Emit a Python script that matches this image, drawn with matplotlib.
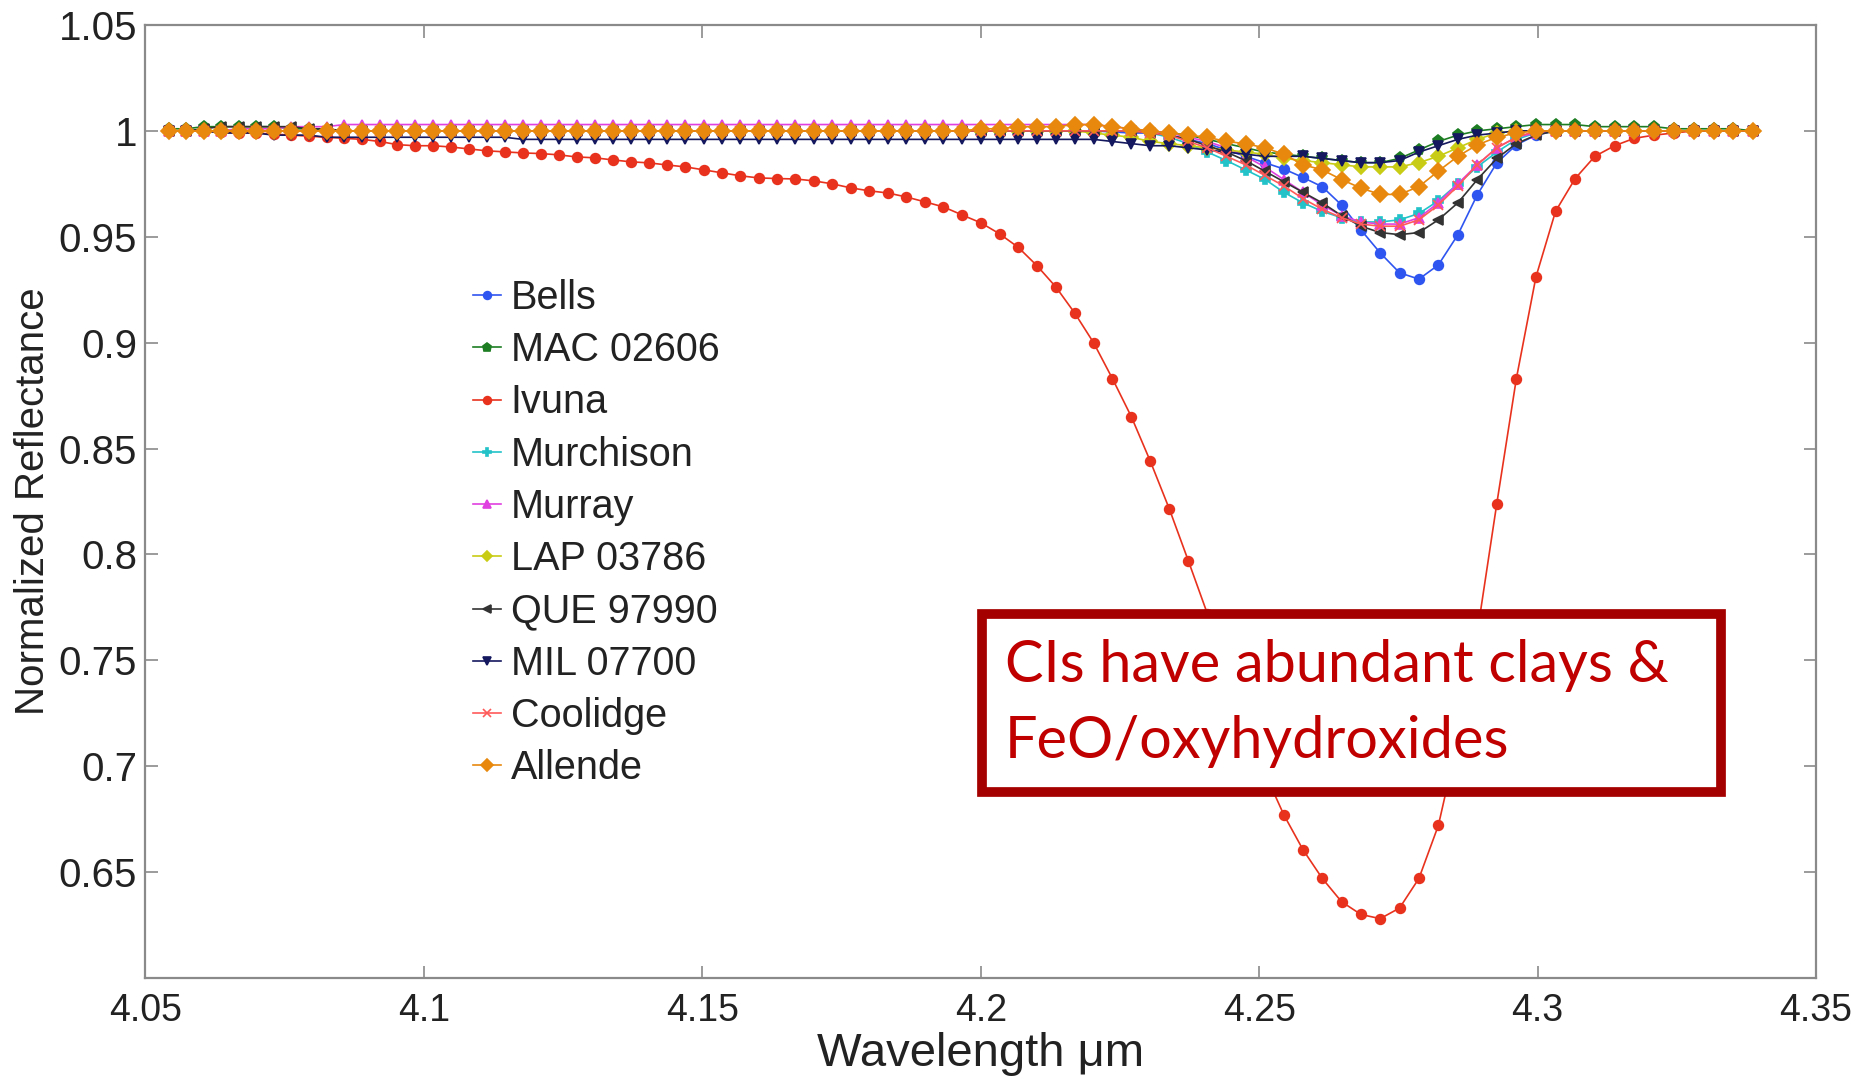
import numpy as np
import matplotlib
matplotlib.use('Agg')
import matplotlib.pyplot as plt
from matplotlib import font_manager
from matplotlib.patches import Rectangle

# sampling grid: evenly spaced in wavenumber (cm-1), read from first/last points
wn_first, wn_last, n_pts = 2466.6, 2304.8, 86
wavelength = 1e4 / np.linspace(wn_first, wn_last, n_pts)

bells = [
    1.0, 1.0, 1.0, 1.0, 1.0, 1.0, 1.0, 1.0, 1.0, 1.0,
    1.0, 1.0, 1.0, 1.0, 1.0, 1.0, 1.0, 1.0, 1.0, 1.0,
    1.0, 1.0, 1.0, 1.0, 1.0, 1.0, 1.0, 1.0, 1.0, 1.0,
    1.0, 1.0, 1.0, 1.0, 1.0, 1.0, 1.0, 1.0, 1.0, 1.0,
    1.0, 1.0, 1.0, 1.0, 1.0, 1.0, 1.0, 1.0, 1.0, 1.0,
    1.0, 1.0, 0.9995, 0.999, 0.999, 0.998, 0.996, 0.994, 0.991, 0.988,
    0.985, 0.982, 0.978, 0.9736, 0.965, 0.9533, 0.9424, 0.933, 0.930, 0.9367,
    0.9509, 0.9698, 0.9849, 0.9934, 0.998, 1.0, 1.0, 1.0, 1.0, 1.0,
    1.0, 1.0, 1.0, 1.0, 1.0, 1.0]

mac_02606 = [
    1.001, 1.001, 1.002, 1.002, 1.002, 1.002, 1.002, 1.001, 1.001, 1.0,
    1.0, 1.0, 1.0, 1.0, 1.0, 1.0, 1.0, 1.0, 1.0, 1.0,
    1.0, 1.0, 1.0, 1.0, 1.0, 1.0, 1.0, 1.0, 1.0, 1.0,
    1.0, 1.0, 1.0, 1.0, 1.0, 1.0, 1.0, 1.0, 1.0, 1.0,
    1.0, 1.0, 1.0, 1.0, 1.0, 1.0, 1.0, 1.0, 1.0, 1.0,
    1.0, 1.0, 1.0, 1.0, 1.0, 0.999, 0.998, 0.996, 0.994, 0.992,
    0.990, 0.989, 0.988, 0.987, 0.986, 0.985, 0.985, 0.987, 0.991, 0.995,
    0.998, 1.0, 1.001, 1.002, 1.003, 1.003, 1.003, 1.002, 1.002, 1.002,
    1.002, 1.001, 1.001, 1.001, 1.001, 1.0]

ivuna = [
    1.0, 1.0, 1.0, 0.9995, 0.999, 0.999, 0.9985, 0.998, 0.9975, 0.997,
    0.9965, 0.996, 0.995, 0.9935, 0.993, 0.993, 0.9924, 0.9915, 0.9906, 0.9901,
    0.9896, 0.9893, 0.9887, 0.9877, 0.9873, 0.9863, 0.9854, 0.9849, 0.9839, 0.983,
    0.9816, 0.9802, 0.9788, 0.9778, 0.9775, 0.9773, 0.9764, 0.975, 0.9731, 0.9717,
    0.9707, 0.9688, 0.9665, 0.9641, 0.9603, 0.9566, 0.9514, 0.945, 0.9363, 0.9263,
    0.914, 0.900, 0.883, 0.865, 0.844, 0.8215, 0.797, 0.772, 0.7455, 0.721,
    0.697, 0.677, 0.6605, 0.647, 0.636, 0.630, 0.628, 0.633, 0.647, 0.672,
    0.7125, 0.763, 0.824, 0.883, 0.931, 0.962, 0.9775, 0.988, 0.993, 0.9965,
    0.998, 0.999, 1.0, 1.0, 1.0, 1.0]

murchison = [
    1.0, 1.0, 1.0, 1.0, 1.0, 1.0, 1.0, 1.0, 1.0, 1.0,
    1.0, 1.0, 1.0, 1.0, 1.0, 1.0, 1.0, 1.0, 1.0, 1.0,
    1.0, 1.0, 1.0, 1.0, 1.0, 1.0, 1.0, 1.0, 1.0, 1.0,
    1.0, 1.0, 1.0, 1.0, 1.0, 1.0, 1.0, 1.0, 1.0, 1.0,
    1.0, 1.0, 1.0, 1.0, 1.0, 1.0, 1.0, 1.0, 1.0, 1.0,
    1.0, 1.0, 1.0, 1.0, 0.999, 0.997, 0.994, 0.990, 0.986, 0.9816,
    0.9772, 0.971, 0.966, 0.962, 0.959, 0.957, 0.957, 0.958, 0.961, 0.967,
    0.975, 0.983, 0.990, 0.996, 0.999, 1.0, 1.0, 1.0, 1.0, 1.0,
    1.0, 1.0, 1.0, 1.0, 1.0, 1.0]

murray = [
    1.0, 1.0, 1.0, 1.0, 1.001, 1.001, 1.001, 1.002, 1.002, 1.002,
    1.003, 1.003, 1.003, 1.003, 1.003, 1.003, 1.003, 1.003, 1.003, 1.003,
    1.003, 1.003, 1.003, 1.003, 1.003, 1.003, 1.003, 1.003, 1.003, 1.003,
    1.003, 1.003, 1.003, 1.003, 1.003, 1.003, 1.003, 1.003, 1.003, 1.003,
    1.003, 1.003, 1.003, 1.003, 1.003, 1.003, 1.003, 1.003, 1.003, 1.003,
    1.003, 1.003, 1.002, 1.001, 1.0, 0.999, 0.997, 0.995, 0.992, 0.988,
    0.983, 0.977, 0.971, 0.965, 0.960, 0.957, 0.956, 0.956, 0.959, 0.966,
    0.975, 0.984, 0.992, 0.997, 0.999, 1.0, 1.0, 1.0, 1.0, 1.0,
    1.0, 1.0, 1.0, 1.0, 1.0, 1.0]

lap_03786 = [
    1.0, 1.0, 1.0, 1.0, 1.0, 1.0, 1.0, 1.0, 1.0, 1.0,
    1.0, 1.0, 1.0, 1.0, 1.0, 1.0, 1.0, 1.0, 1.0, 1.0,
    1.0, 1.0, 1.0, 1.0, 1.0, 1.0, 1.0, 1.0, 1.0, 1.0,
    1.0, 1.0, 1.0, 1.0, 1.0, 1.0, 1.0, 1.0, 1.0, 1.0,
    1.0, 1.0, 1.0, 1.0, 1.0, 1.0, 1.0, 1.0, 1.0, 1.0,
    1.0, 0.999, 0.998, 0.997, 0.995, 0.994, 0.993, 0.992, 0.991, 0.990,
    0.989, 0.987, 0.986, 0.985, 0.984, 0.983, 0.983, 0.983, 0.985, 0.988,
    0.992, 0.996, 0.999, 1.0, 1.0, 1.0, 1.0, 1.0, 1.0, 1.0,
    1.0, 1.0, 1.0, 1.0, 1.0, 1.0]

que_97990 = [
    1.0, 1.0, 1.001, 1.002, 1.002, 1.002, 1.002, 1.002, 1.001, 1.001,
    1.0, 1.0, 1.0, 1.0, 1.0, 1.0, 1.0, 1.0, 1.0, 1.0,
    1.0, 1.0, 1.0, 1.0, 1.0, 1.0, 1.0, 1.0, 1.0, 1.0,
    1.0, 1.0, 1.0, 1.0, 1.0, 1.0, 1.0, 1.0, 1.0, 1.0,
    1.0, 1.0, 1.0, 1.0, 1.0, 1.0, 1.0, 1.0, 1.0, 1.0,
    1.0, 1.0, 1.0, 1.0, 0.999, 0.998, 0.996, 0.993, 0.990, 0.986,
    0.981, 0.976, 0.971, 0.966, 0.960, 0.955, 0.952, 0.951, 0.952, 0.958,
    0.966, 0.977, 0.987, 0.994, 0.998, 1.0, 1.0, 1.0, 1.0, 1.0,
    1.0, 1.0, 1.0, 1.0, 1.0, 1.0]

mil_07700 = [
    1.0, 1.0, 1.0, 0.999, 0.999, 0.999, 0.998, 0.998, 0.998, 0.997,
    0.997, 0.997, 0.997, 0.997, 0.997, 0.997, 0.997, 0.997, 0.997, 0.997,
    0.996, 0.996, 0.996, 0.996, 0.996, 0.996, 0.996, 0.996, 0.996, 0.996,
    0.996, 0.996, 0.996, 0.996, 0.996, 0.996, 0.996, 0.996, 0.996, 0.996,
    0.996, 0.996, 0.996, 0.996, 0.996, 0.996, 0.996, 0.996, 0.996, 0.996,
    0.996, 0.996, 0.995, 0.994, 0.993, 0.993, 0.992, 0.991, 0.990, 0.989,
    0.988, 0.988, 0.988, 0.987, 0.986, 0.985, 0.985, 0.986, 0.990, 0.993,
    0.996, 0.998, 0.999, 1.0, 1.0, 1.0, 1.0, 1.0, 1.0, 1.0,
    1.0, 1.0, 1.0, 1.0, 1.0, 1.0]

coolidge = [
    1.0, 1.0, 1.0, 1.0, 1.0, 1.0, 1.0, 1.0, 1.0, 1.0,
    1.0, 1.0, 1.0, 1.0, 1.0, 1.0, 1.0, 1.0, 1.0, 1.0,
    1.0, 1.0, 1.0, 1.0, 1.0, 1.0, 1.0, 1.0, 1.0, 1.0,
    1.0, 1.0, 1.0, 1.0, 1.0, 1.0, 1.0, 1.0, 1.0, 1.0,
    1.0, 1.0, 1.0, 1.0, 1.0, 1.0, 1.0, 1.0, 1.0, 1.0,
    1.0, 1.0, 1.0, 1.0, 0.999, 0.998, 0.995, 0.992, 0.988, 0.984,
    0.979, 0.974, 0.968, 0.963, 0.959, 0.956, 0.955, 0.955, 0.958, 0.965,
    0.974, 0.984, 0.992, 0.997, 1.0, 1.0, 1.0, 1.0, 1.0, 1.0,
    1.0, 1.0, 1.0, 1.0, 1.0, 1.0]

allende = [
    1.0, 1.0, 1.0, 1.0, 1.0, 1.0, 1.0, 1.0, 1.0, 1.0,
    1.0, 1.0, 1.0, 1.0, 1.0, 1.0, 1.0, 1.0, 1.0, 1.0,
    1.0, 1.0, 1.0, 1.0, 1.0, 1.0, 1.0, 1.0, 1.0, 1.0,
    1.0, 1.0, 1.0, 1.0, 1.0, 1.0, 1.0, 1.0, 1.0, 1.0,
    1.0, 1.0, 1.0, 1.0, 1.0, 1.001, 1.001, 1.002, 1.002, 1.002,
    1.003, 1.003, 1.002, 1.001, 1.0, 0.999, 0.998, 0.997, 0.995, 0.994,
    0.992, 0.989, 0.984, 0.9816, 0.977, 0.973, 0.970, 0.970, 0.9737, 0.981,
    0.988, 0.9934, 0.997, 0.999, 1.0, 1.0, 1.0, 1.0, 1.0, 1.0,
    1.0, 1.0, 1.0, 1.0, 1.0, 1.0]

labels = ['Bells', 'MAC 02606', 'Ivuna', 'Murchison', 'Murray',
          'LAP 03786', 'QUE 97990', 'MIL 07700', 'Coolidge', 'Allende']
series = [bells, mac_02606, ivuna, murchison, murray,
          lap_03786, que_97990, mil_07700, coolidge, allende]
colors = ['#2f55f0', '#1d7d22', '#e8321e', '#22c2c8', '#e040e0',
          '#c8cc14', '#333333', '#14185e', '#ff5a5a', '#e8890e']
markers = ['o', 'p', 'o', 'P', '^', 'D', '<', 'v', 'x', 'D']
sizes = [7, 8, 7, 7, 7, 7, 7, 7, 7, 8]

xticks = [4.05, 4.1, 4.15, 4.2, 4.25, 4.3, 4.35]
xticklabels = ['4.05', '4.1', '4.15', '4.2', '4.25', '4.3', '4.35']
yticks = [0.65, 0.7, 0.75, 0.8, 0.85, 0.9, 0.95, 1.0, 1.05]
yticklabels = ['0.65', '0.7', '0.75', '0.8', '0.85', '0.9', '0.95', '1', '1.05']

names = {f.name for f in font_manager.fontManager.ttflist}
if 'Liberation Sans Narrow' in names:
    narrow, nscale = 'Liberation Sans Narrow', 1.15
else:
    narrow, nscale = 'Liberation Sans', 1.0
wide = 'Liberation Sans'
box_font = 'Lato' if 'Lato' in names else 'DejaVu Sans'

fig = plt.figure(figsize=(18.7, 10.83), dpi=100)
ax = fig.add_axes([0.0778, 0.0970, 0.8933, 0.8799])

for y, lab, c, m, s in zip(series, labels, colors, markers, sizes):
    ax.plot(wavelength, y, color=c, marker=m, markersize=s, linewidth=1.2,
            markeredgecolor=c, markeredgewidth=1.2, label=lab)

ax.set_xlim(4.05, 4.35)
ax.set_ylim(0.6, 1.05)
ax.set_xticks(xticks)
ax.set_xticklabels(xticklabels, fontfamily=narrow, fontsize=27 * nscale, color='#222222')
ax.set_yticks(yticks)
ax.set_yticklabels(yticklabels, fontfamily=wide, fontsize=29, color='#222222')
ax.tick_params(direction='in', length=9, width=1.2, color='#8a8a8a',
               top=True, right=True)
ax.tick_params(axis='x', pad=11)
ax.tick_params(axis='y', pad=6)
for sp in ax.spines.values():
    sp.set_color('#8a8a8a')
    sp.set_linewidth(1.6)

ax.set_xlabel('Wavelength μm', fontfamily=narrow, fontsize=34 * nscale,
              color='#222222', labelpad=2)
ax.set_ylabel('Normalized Reflectance', fontfamily=narrow, fontsize=29 * nscale,
              color='#222222', labelpad=5)

leg = ax.legend(loc='upper left', bbox_to_anchor=(0.2529, 0.7424),
                bbox_transform=fig.transFigure, frameon=False, numpoints=1,
                prop={'family': wide, 'size': 28.5}, handlelength=0.7,
                handletextpad=0.25, labelspacing=0.36, borderpad=0,
                borderaxespad=0, markerscale=0.8)
for t in leg.get_texts():
    t.set_color('#222222')

# annotation box
fig.add_artist(Rectangle((0.5249, 0.2687), 0.3955, 0.1644, transform=fig.transFigure,
                         facecolor='white', edgecolor='#a50000', linewidth=7, zorder=5))
fig.text(0.5374, 0.3703, 'CIs have abundant clays &', fontfamily=box_font,
         fontsize=41.5, color='#c00000', va='baseline', ha='left', zorder=6)
fig.text(0.5374, 0.3001, 'FeO/oxyhydroxides', fontfamily=box_font,
         fontsize=41.5, color='#c00000', va='baseline', ha='left', zorder=6)

plt.savefig('out.png', dpi=100)
